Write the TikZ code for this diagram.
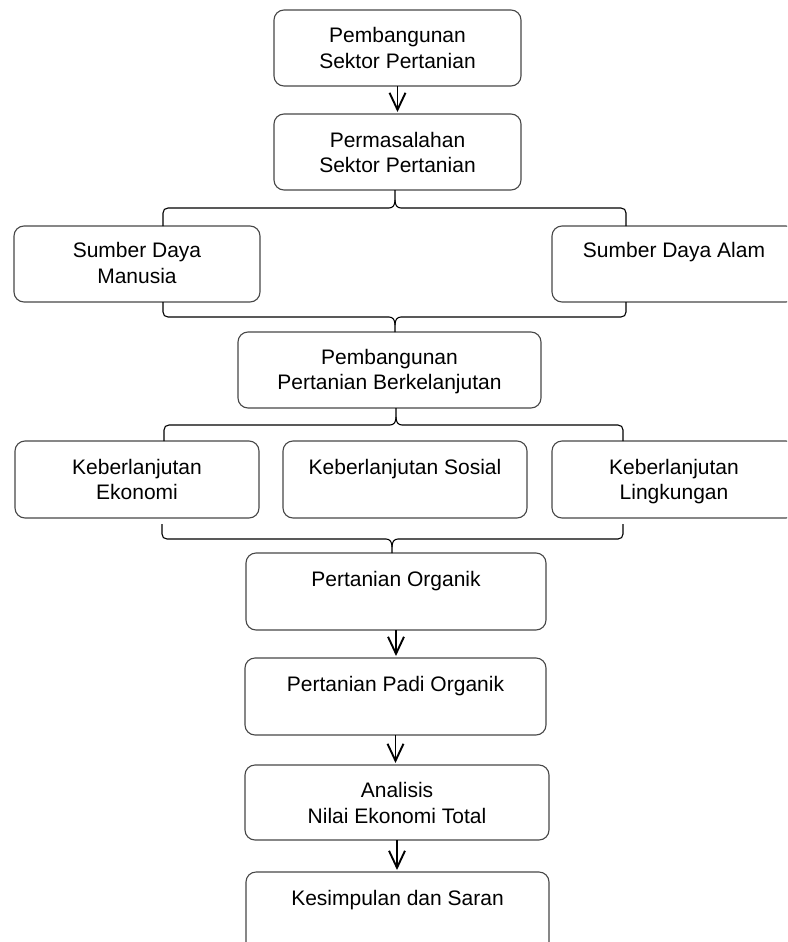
\documentclass[tikz,border=0pt]{standalone}
\usepackage{fontspec}
\setmainfont{Liberation Sans}
\usetikzlibrary{arrows.meta}
\newcommand{\brc}[7]{%
\draw[brace] ({#4},{#6}) -- ({#4},{#3+5*#7}) .. controls ({#4},{#3+2*#7}) and ({#4+2},{#3}) .. ({#4+5},{#3}) -- ({#1-6},{#3}) .. controls ({#1-2},{#3}) and ({#1},{#3-3*#7}) .. ({#1},{#3-8*#7}) -- ({#1},{#2});
\draw[brace] ({#1},{#3-8*#7}) .. controls ({#1},{#3-3*#7}) and ({#1+2},{#3}) .. ({#1+6},{#3}) -- ({#5-5},{#3}) .. controls ({#5-2},{#3}) and ({#5},{#3+2*#7}) .. ({#5},{#3+5*#7}) -- ({#5},{#6});}
\begin{document}
\begin{tikzpicture}[x=1pt,y=-1pt,
 box/.style={draw=black!72, line width=1.1pt, rounded corners=10pt, inner sep=0pt, outer sep=0pt, anchor=north west},
 txt/.style={font=\fontsize{21}{25}\selectfont, anchor=base, inner sep=0pt},
 arr/.style={line width=1.9pt, -{Straight Barb[length=17pt,width=16pt]}, shorten >=2pt},
 brace/.style={line width=1.1pt}]
\useasboundingbox (0,0) rectangle (787,942);
\clip (0,0) rectangle (787,942);
% boxes
\node[box, minimum width=247pt, minimum height=76pt] (b1) at (274,10) {};
\node[box, minimum width=247pt, minimum height=76pt] (b2) at (274,114) {};
\node[box, minimum width=246pt, minimum height=76pt] (b3l) at (14,226) {};
\node[box, minimum width=244pt, minimum height=76pt] (b3r) at (552,226) {};
\node[box, minimum width=303pt, minimum height=76pt] (b4) at (238,332) {};
\node[box, minimum width=244pt, minimum height=77pt] (b5l) at (15,441) {};
\node[box, minimum width=244pt, minimum height=77pt] (b5m) at (283,441) {};
\node[box, minimum width=244pt, minimum height=77pt] (b5r) at (552,441) {};
\node[box, minimum width=300pt, minimum height=77pt] (b6) at (246,553) {};
\node[box, minimum width=301pt, minimum height=77pt] (b7) at (245,658) {};
\node[box, minimum width=304pt, minimum height=75pt] (b8) at (245,765) {};
\node[box, minimum width=303pt, minimum height=95pt] (b9) at (246,872) {};
% texts
\node[txt] (t1a) at ([yshift=-33pt]b1.north) {Pembangunan};
\node[txt] (t1b) at ([yshift=-58pt]b1.north) {Sektor Pertanian};
\node[txt] (t2a) at ([yshift=-33pt]b2.north) {Permasalahan};
\node[txt] (t2b) at ([yshift=-58pt]b2.north) {Sektor Pertanian};
\node[txt] (t3a) at ([yshift=-31pt]b3l.north) {Sumber Daya};
\node[txt] (t3b) at ([yshift=-57pt]b3l.north) {Manusia};
\node[txt] (t3c) at ([yshift=-31pt]b3r.north) {Sumber Daya Alam};
\node[txt] (t4a) at ([yshift=-32pt]b4.north) {Pembangunan};
\node[txt] (t4b) at ([yshift=-57pt]b4.north) {Pertanian Berkelanjutan};
\node[txt] (t5a) at ([yshift=-33pt]b5l.north) {Keberlanjutan};
\node[txt] (t5b) at ([yshift=-58pt]b5l.north) {Ekonomi};
\node[txt] (t5c) at ([yshift=-33pt]b5m.north) {Keberlanjutan Sosial};
\node[txt] (t5d) at ([yshift=-33pt]b5r.north) {Keberlanjutan};
\node[txt] (t5e) at ([yshift=-58pt]b5r.north) {Lingkungan};
\node[txt] (t6) at ([yshift=-33pt]b6.north) {Pertanian Organik};
\node[txt] (t7) at ([yshift=-33pt]b7.north) {Pertanian Padi Organik};
\node[txt] (t8a) at ([yshift=-32pt]b8.north) {Analisis};
\node[txt] (t8b) at ([yshift=-58pt]b8.north) {Nilai Ekonomi Total};
\node[txt] (t9) at ([yshift=-33pt]b9.north) {Kesimpulan dan Saran};
% arrows
\draw[arr] (b1.south) -- (b1.south |- b2.north);
\draw[arr] (b6.south) -- (b6.south |- b7.north);
\draw[arr] (b7.south) -- (b7.south |- b8.north);
\draw[arr] (b8.south) -- (b8.south |- b9.north);
% braces
\brc{395}{190}{208}{163}{626}{226}{1}
\brc{395}{332}{317}{163}{626}{302}{(-1)}
\brc{396}{408}{425}{164}{623}{441}{1}
\brc{392}{553}{539}{162}{623}{524}{(-1)}
\end{tikzpicture}
\end{document}
